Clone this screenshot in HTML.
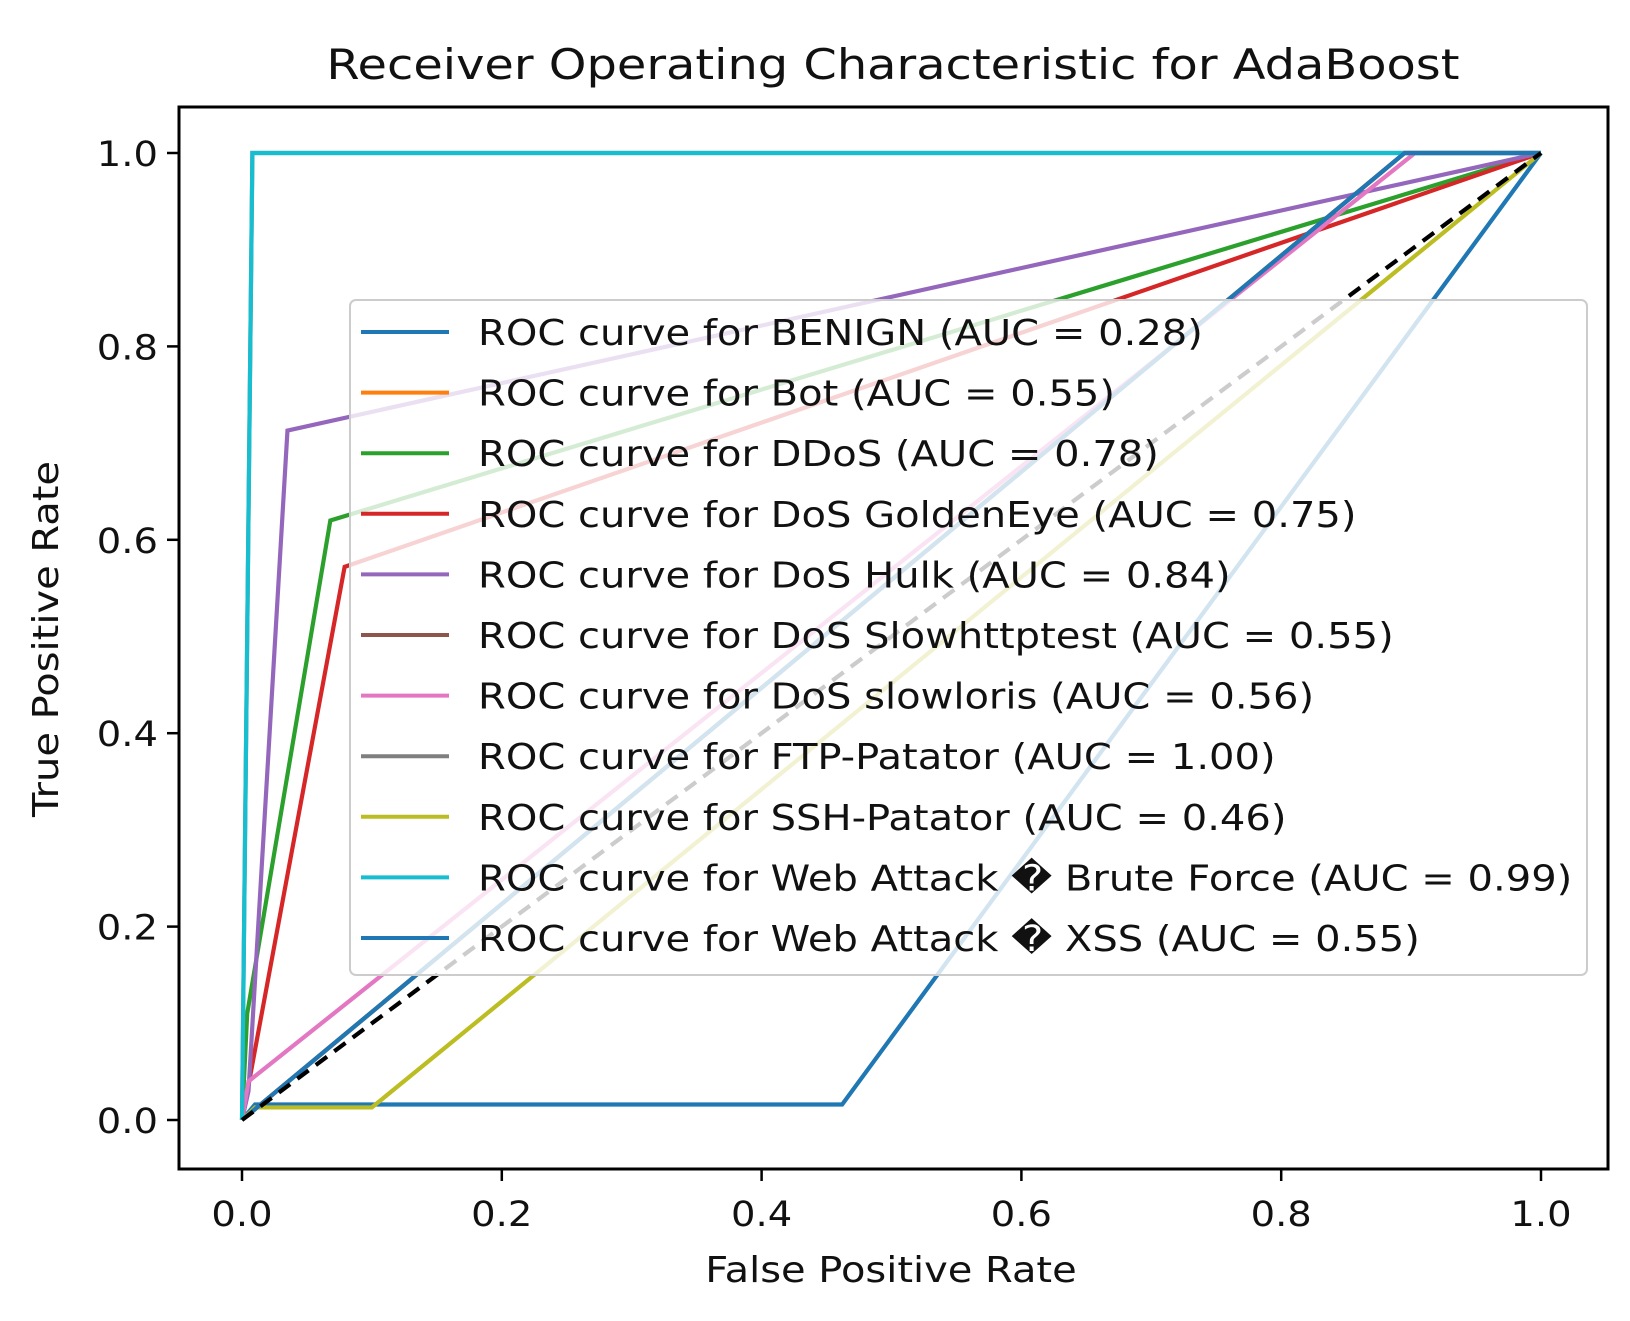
<!DOCTYPE html>
<html><head><meta charset="utf-8"><style>
body{margin:0;background:#fff}
svg{display:block;font-family:"DejaVu Sans","Liberation Sans",sans-serif}
</style></head><body>
<svg id="chart" width="1630" height="1321" viewBox="0 0 1630 1321" xmlns="http://www.w3.org/2000/svg">
<rect x="0" y="0" width="1630" height="1321" fill="#fff"/>
<text class="st" data-f="1.14" x="893" y="79" font-size="42" text-anchor="middle" fill="#111">Receiver Operating Characteristic for AdaBoost</text>
<g id="plot"></g>
<g id="axes"></g>
<g id="legend"></g>
<text class="st" data-f="1.11" x="891" y="1282" font-size="36" text-anchor="middle" fill="#111">False Positive Rate</text>
<text class="st" data-f="1.11" transform="translate(58,639) rotate(-90)" font-size="36" text-anchor="middle" fill="#111">True Positive Rate</text>
</svg>
<script>
const classNames = ["BENIGN","Bot","DDoS","DoS GoldenEye","DoS Hulk","DoS Slowhttptest","DoS slowloris","FTP-Patator","SSH-Patator","Web Attack \uFFFD Brute Force","Web Attack \uFFFD XSS"];
const aucValues = ["0.28","0.55","0.78","0.75","0.84","0.55","0.56","1.00","0.46","0.99","0.55"];
const colors = ["#1f77b4","#ff7f0e","#2ca02c","#d62728","#9467bd","#8c564b","#e377c2","#7f7f7f","#bcbd22","#17becf","#1f77b4"];
const fprValues = [
  [0,0.01,0.462,1],
  [0,0.895,1],
  [0,0.004,0.068,1],
  [0,0.079,1],
  [0,0.005,0.035,1],
  [0,0.895,1],
  [0,0.005,0.903,1],
  [0,0.008,1],
  [0,0.01,0.1,1],
  [0,0.008,1],
  [0,0.895,1]
];
const tprValues = [
  [0,0.016,0.016,1],
  [0,1,1],
  [0,0.11,0.62,1],
  [0,0.572,1],
  [0,0.03,0.713,1],
  [0,1,1],
  [0,0.04,1,1],
  [0,1,1],
  [0,0.013,0.013,1],
  [0,1,1],
  [0,1,1]
];
const xTicks = [0,0.2,0.4,0.6,0.8,1.0];
const yTicks = [0,0.2,0.4,0.6,0.8,1.0];
const xTickLabels = ["0.0","0.2","0.4","0.6","0.8","1.0"];
const yTickLabels = ["0.0","0.2","0.4","0.6","0.8","1.0"];

const NS="http://www.w3.org/2000/svg";
const X0=242,X1=1541,Y0=1120,Y1=153;
const sx=v=>X0+v*(X1-X0);
const sy=v=>Y0-v*(Y0-Y1);
function mk(tag,attrs,parent){const e=document.createElementNS(NS,tag);for(const k in attrs)e.setAttribute(k,attrs[k]);parent.appendChild(e);return e;}
const plot=document.getElementById('plot'),axes=document.getElementById('axes'),legend=document.getElementById('legend');
classNames.forEach((n,i)=>{
  const pts=fprValues[i].map((f,j)=>sx(f)+','+sy(tprValues[i][j])).join(' ');
  const pl=mk('polyline',{points:pts,fill:'none',stroke:colors[i],'stroke-width':4.2,'stroke-linejoin':'miter'},plot);
  
  
});
const diag=mk('line',{x1:sx(0),y1:sy(0),x2:sx(1),y2:sy(1),stroke:'#000','stroke-width':4.2,'stroke-dasharray':'14,9'},plot);



const frame=mk('rect',{x:179,y:107,width:1429,height:1062,fill:'none',stroke:'#000','stroke-width':3},axes);


xTicks.forEach((v,i)=>{
  const t=mk('line',{x1:sx(v),y1:1169,x2:sx(v),y2:1181,stroke:'#000','stroke-width':2.5},axes);
  
  
  const l=mk('text',{x:sx(v),y:1226,'font-size':35,'text-anchor':'middle',fill:'#111',class:'st','data-f':1.1},axes);
  l.textContent=xTickLabels[i];
  
  
});
yTicks.forEach((v,i)=>{
  const t=mk('line',{x1:167,y1:sy(v),x2:179,y2:sy(v),stroke:'#000','stroke-width':2.5},axes);
  
  
  const l=mk('text',{x:158,y:sy(v)+13,'font-size':35,'text-anchor':'end',fill:'#111',class:'st','data-f':1.1},axes);
  l.textContent=yTickLabels[i];
  
  
});

const box=mk('rect',{x:350,y:300,width:1237,height:675,rx:6,fill:'#fff','fill-opacity':0.8,stroke:'#ccc','stroke-width':2},legend);


classNames.forEach((n,i)=>{
  const y=332+i*60.6;
  const h=mk('line',{x1:361,y1:y,x2:449,y2:y,stroke:colors[i],'stroke-width':4},legend);
  
  
  const t=mk('text',{x:478,y:y+13,'font-size':36,fill:'#111',class:'st','data-f':1.112},legend);
  t.textContent='ROC curve for '+n+' (AUC = '+aucValues[i]+')';
  
  
});
document.querySelectorAll('text.st').forEach(t=>{
  const w=t.getComputedTextLength();
  const f=parseFloat(t.getAttribute('data-f')||'1.1');
  t.setAttribute('textLength',(w*f).toFixed(1));
  t.setAttribute('lengthAdjust','spacingAndGlyphs');
});
</script>
</body></html>
